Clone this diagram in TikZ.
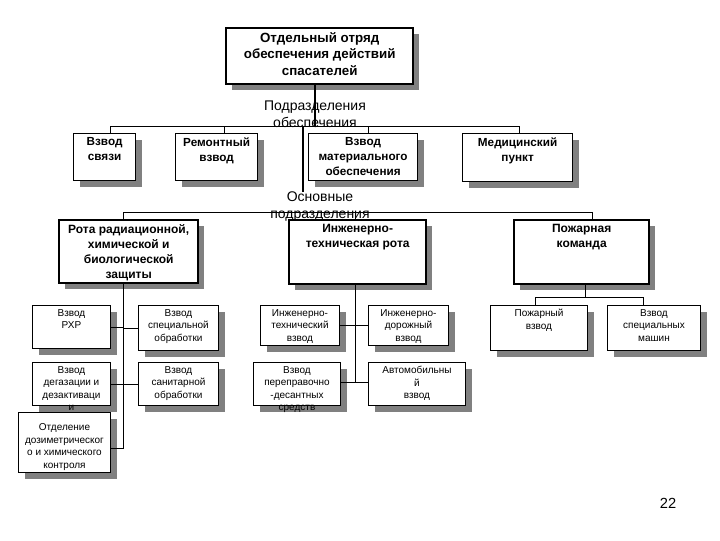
\documentclass[tikz,border=0pt]{standalone}
\usepackage{fontspec}
\setmainfont{Liberation Sans}
\usetikzlibrary{shadows}

% one pixel of the slide
\newdimen\pix
\pix=0.75pt

% text of a box: width, height (pixels), lines from the top
\newcommand{\boxtext}[3]{\parbox[c][#2\pix][t]{#1\pix}{\centering\vspace*{4\pix}#3}}

\begin{document}
\begin{tikzpicture}[
    x=0.75pt,
    y=-0.75pt,
    shade box/.style={
        fill=white,
        inner sep=0pt,
        anchor=north west,
        drop shadow={shadow xshift=4.5pt, shadow yshift=-4.5pt, fill=black!50, opacity=1}
    },
    head/.style={
        shade box,
        draw,
        line width=1.8pt,
        font=\fontsize{10}{12.4}\selectfont\bfseries
    },
    unit/.style={
        shade box,
        draw,
        line width=0.9pt,
        font=\fontsize{8.8}{11.25}\selectfont\bfseries
    },
    company/.style={
        shade box,
        draw,
        line width=1.8pt,
        font=\fontsize{9}{11.25}\selectfont\bfseries
    },
    platoon/.style={
        shade box,
        draw,
        line width=0.75pt,
        font=\fontsize{7.5}{9.4}\selectfont
    },
    caption/.style={
        inner sep=0pt,
        align=center,
        font=\fontsize{10.5}{12.75}\selectfont
    },
    link/.style={
        line width=0.75pt
    },
    trunk/.style={
        line width=1.5pt
    }
]

\useasboundingbox (0,0) rectangle (720,540);

% Rows of boxes
\def\RowA{133}
\def\RowB{219}
\def\RowC{305}
\def\RowD{362}

% ==================================================
% Head of the detachment
% ==================================================

\node[head] (top) at (225,27)
    {\boxtext{187}{56}{Отдельный отряд\\обеспечения действий\\спасателей}};

\node[caption] (podr) at (315,114)
    {Подразделения\\обеспечения};

% ==================================================
% Support units
% ==================================================

\node[unit] (svyaz) at (73,\RowA)
    {\boxtext{62}{47}{Взвод\\связи}};

\node[unit] (remont) at (175,\RowA)
    {\boxtext{82}{47}{Ремонтный\\взвод}};

\node[unit] (mat) at (308,\RowA)
    {\boxtext{109}{47}{Взвод\\материального\\обеспечения}};

\node[unit] (med) at (462,\RowA)
    {\boxtext{110}{48}{Медицинский\\пункт}};

\node[caption] (osn) at (320,207)
    {Основные\\подразделения};

% ==================================================
% Main units
% ==================================================

\node[company] (rhbz) at (58,\RowB)
    {\boxtext{139}{63}{Рота радиационной,\\химической и\\биологической\\защиты}};

\node[company] (ingrota) at (288,\RowB)
    {\boxtext{137}{64}{Инженерно-\\техническая рота}};

\node[company] (pozh) at (513,\RowB)
    {\boxtext{135}{64}{Пожарная\\команда}};

% ==================================================
% Platoons
% ==================================================

% radiation, chemical and biological company
\node[platoon] (rhr) at (32,\RowC)
    {\boxtext{78}{43}{Взвод\\РХР}};

\node[platoon] (specobr) at (138,\RowC)
    {\boxtext{80}{45}{Взвод\\специальной\\обработки}};

\node[platoon] (degaz) at (32,\RowD)
    {\boxtext{78}{43}{Взвод\\дегазации и\\дезактиваци\\и}};

\node[platoon] (sanobr) at (138,\RowD)
    {\boxtext{80}{43}{Взвод\\санитарной\\обработки}};

\node[platoon] (dozim) at (18,412)
    {\boxtext{92}{60}{\vspace*{7\pix}Отделение\\дозиметрическог\\о и химического\\контроля}};

% engineering company
\node[platoon] (intech) at (260,\RowC)
    {\boxtext{79}{40}{Инженерно-\\технический\\взвод}};

\node[platoon] (indor) at (368,\RowC)
    {\boxtext{80}{40}{Инженерно-\\дорожный\\взвод}};

\node[platoon] (perepr) at (253,\RowD)
    {\boxtext{87}{43}{Взвод\\переправочно\\-десантных\\средств}};

\node[platoon] (avto) at (368,\RowD)
    {\boxtext{97}{43}{Автомобильны\\й\\взвод}};

% fire brigade
\node[platoon] (pozhvzvod) at (490,\RowC)
    {\boxtext{97}{45}{Пожарный\\взвод}};

\node[platoon] (specmash) at (607,\RowC)
    {\boxtext{93}{45}{Взвод\\специальных\\машин}};

% page number
\node[font=\fontsize{11}{13}\selectfont] (page) at (668,503) {22};

% ==================================================
% Connections
% ==================================================

% support units
\coordinate (b1) at (315,126);
\coordinate (b1w) at (110,126);
\coordinate (b1r) at (224,126);
\coordinate (b1t) at (303,126);
\coordinate (b1m) at (368,126);
\coordinate (b1e) at (519,126);

\draw[trunk] (top.south -| b1) -- (b1);
\draw[link] (b1w |- svyaz.north) -- (b1w) -- (b1e) -- (b1e |- med.north);
\draw[link] (b1r) -- (b1r |- remont.north);
\draw[link] (b1m) -- (b1m |- mat.north);
\draw[trunk] (b1t) -- (b1t |- osn.north);

% main units
\coordinate (b2w) at (123,212);
\coordinate (b2m) at (355,212);
\coordinate (b2e) at (592,212);

\draw[link] (b2w |- rhbz.north) -- (b2w) -- (b2e) -- (b2e |- pozh.north);
\draw[link] (b2m) -- (b2m |- ingrota.north);

% platoons of the first company
\coordinate (s1) at (123,448);

\draw[link] (s1 |- rhbz.south) -- (s1) -- (s1 -| dozim.east);
\draw[link] (rhr.east) -- (rhr.east -| s1);
\draw[link] (specobr.west) -- (specobr.west -| s1);
\draw[link] (degaz.east) -- (degaz.east -| s1);
\draw[link] (sanobr.west) -- (sanobr.west -| s1);

% platoons of the engineering company
\coordinate (s2) at (355,382);

\draw[link] (s2 |- ingrota.south) -- (s2);
\draw[link] (intech.east) -- (intech.east -| s2);
\draw[link] (indor.west) -- (indor.west -| s2);
\draw[link] (perepr.east |- s2) -- (s2) -- (s2 -| avto.west);

% platoons of the fire brigade
\coordinate (s3) at (585,297);
\coordinate (k1) at (535,297);
\coordinate (k2) at (643,297);

\draw[link] (s3 |- pozh.south) -- (s3);
\draw[link] (k1 |- pozhvzvod.north) -- (k1) -- (k2) -- (k2 |- specmash.north);

\end{tikzpicture}
\end{document}
